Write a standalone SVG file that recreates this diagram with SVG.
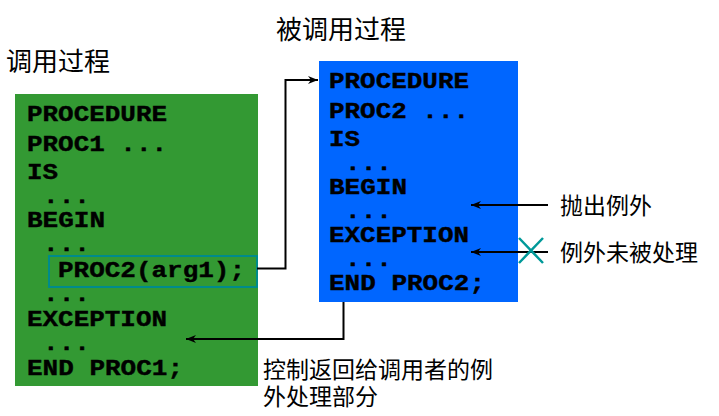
<svg xmlns="http://www.w3.org/2000/svg" width="719" height="416" viewBox="0 0 719 416">
<style>
.code{font-family:"Liberation Mono","Courier New",monospace;font-weight:bold;font-size:22px;fill:#000;stroke:#000;stroke-width:0.4}
.cjk{font-family:"Liberation Sans","Noto Sans CJK SC",sans-serif;fill:#000}
.ln{fill:none;stroke:#000;stroke-width:2}
</style>
<defs>
<marker id="ah" viewBox="0 0 10 8" refX="10" refY="4" markerWidth="10" markerHeight="8" markerUnits="userSpaceOnUse" orient="auto">
<path d="M0,0 L10,4 L0,8 L3,4 Z" fill="#000"/>
</marker>
</defs>
<text class="cjk" x="276" y="39" font-size="26">被调用过程</text>
<text class="cjk" x="6" y="71" font-size="26">调用过程</text>
<g id="proc1">
<rect x="15" y="94" width="243" height="292" fill="#339933"/>
<text class="code" x="27" y="121" textLength="140" lengthAdjust="spacingAndGlyphs">PROCEDURE</text>
<text class="code" x="27" y="150.5" textLength="140" lengthAdjust="spacingAndGlyphs">PROC1 ...</text>
<text class="code" x="27" y="179" textLength="31" lengthAdjust="spacingAndGlyphs">IS</text>
<text class="code" x="43" y="203" textLength="47" lengthAdjust="spacingAndGlyphs">...</text>
<text class="code" x="27" y="227" textLength="78" lengthAdjust="spacingAndGlyphs">BEGIN</text>
<text class="code" x="43" y="251" textLength="47" lengthAdjust="spacingAndGlyphs">...</text>
<rect x="49" y="256" width="208" height="31" fill="none" stroke="#008B8B" stroke-width="2"/>
<text class="code" x="58" y="276.5" textLength="187" lengthAdjust="spacingAndGlyphs">PROC2(arg1);</text>
<text class="code" x="43" y="301" textLength="47" lengthAdjust="spacingAndGlyphs">...</text>
<text class="code" x="27" y="326" textLength="140" lengthAdjust="spacingAndGlyphs">EXCEPTION</text>
<text class="code" x="43" y="350" textLength="47" lengthAdjust="spacingAndGlyphs">...</text>
<text class="code" x="27" y="375" textLength="156" lengthAdjust="spacingAndGlyphs">END PROC1;</text>
</g>
<g id="proc2">
<rect x="319" y="61" width="199" height="241" fill="#0066FF"/>
<text class="code" x="329" y="88" textLength="140" lengthAdjust="spacingAndGlyphs">PROCEDURE</text>
<text class="code" x="329" y="118" textLength="140" lengthAdjust="spacingAndGlyphs">PROC2 ...</text>
<text class="code" x="329" y="146" textLength="31" lengthAdjust="spacingAndGlyphs">IS</text>
<text class="code" x="345" y="170" textLength="47" lengthAdjust="spacingAndGlyphs">...</text>
<text class="code" x="329" y="194" textLength="78" lengthAdjust="spacingAndGlyphs">BEGIN</text>
<text class="code" x="345" y="218" textLength="47" lengthAdjust="spacingAndGlyphs">...</text>
<text class="code" x="329" y="242" textLength="140" lengthAdjust="spacingAndGlyphs">EXCEPTION</text>
<text class="code" x="345" y="266" textLength="47" lengthAdjust="spacingAndGlyphs">...</text>
<text class="code" x="329" y="290" textLength="156" lengthAdjust="spacingAndGlyphs">END PROC2;</text>
</g>
<g id="connectors">
<path class="ln" d="M257,268.5 H285.5 V80 H318" marker-end="url(#ah)"/>
<path class="ln" d="M343.5,302 V339 H186" marker-end="url(#ah)"/>
<path class="ln" d="M548,205 H471" marker-end="url(#ah)"/>
<path class="ln" d="M548,252 H471" marker-end="url(#ah)"/>
<path d="M519,238 L543,263 M543,238 L519,263" stroke="#009999" stroke-width="2.5" fill="none"/>
</g>
<g id="labels">
<text class="cjk" x="560" y="214" font-size="23">抛出例外</text>
<text class="cjk" x="560" y="261" font-size="23">例外未被处理</text>
<text class="cjk" x="263" y="378" font-size="23">控制返回给调用者的例</text>
<text class="cjk" x="263" y="405" font-size="23">外处理部分</text>
</g>
</svg>
